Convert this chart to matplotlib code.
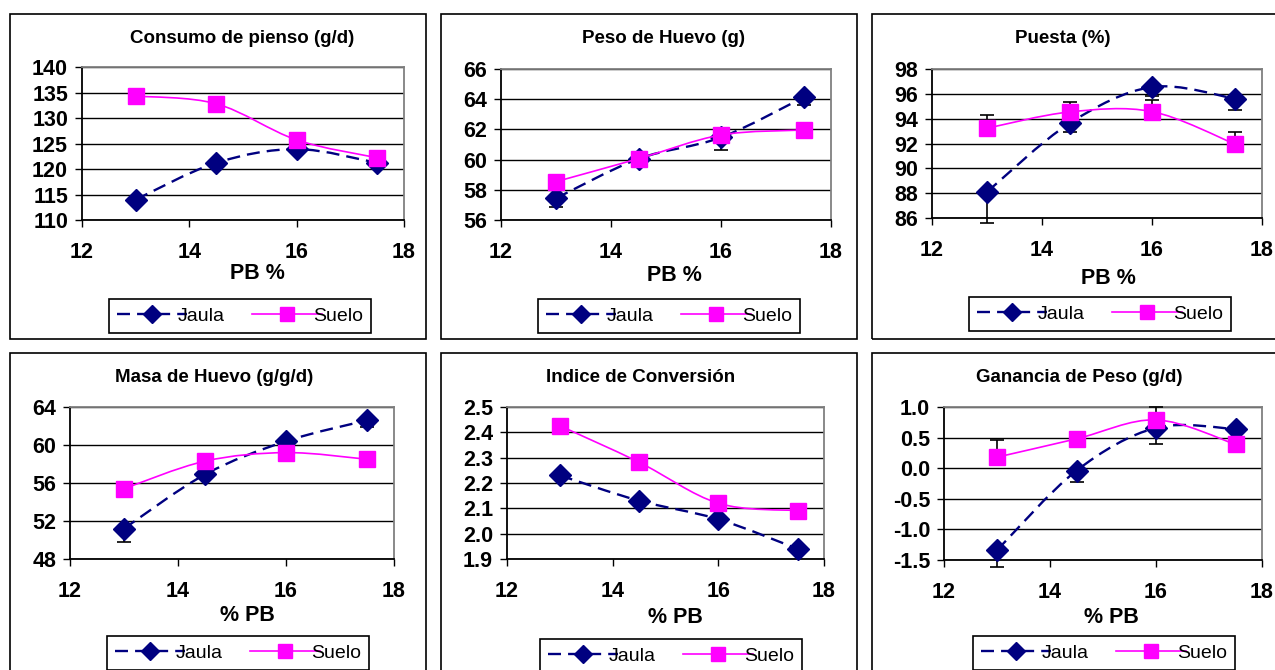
import numpy as np
import matplotlib
matplotlib.use("Agg")
import matplotlib.pyplot as plt
from matplotlib.path import Path
from matplotlib.patches import PathPatch, Rectangle
from matplotlib.lines import Line2D

plt.rcParams['font.family'] = ['Liberation Sans', 'DejaVu Sans']

W, H = 1275, 670
NAVY = '#000080'
MAG = '#FF00FF'

# protein level (PB %)
pb = [13, 14.5, 16, 17.5]

consumo_jaula = [114.0, 121.2, 123.9, 121.2]
consumo_jaula_err = [0.9, 0.4, 0.4, 0.4]
consumo_suelo = [134.3, 132.8, 125.7, 122.2]
consumo_suelo_err = [0.2, 0.2, 0.2, 0.2]

peso_jaula = [57.44, 60.05, 61.47, 64.12]
peso_jaula_err = [0.56, 0.3, 0.83, 0.52]
peso_suelo = [58.54, 60.06, 61.63, 61.96]
peso_suelo_err = [0.1, 0.1, 0.1, 0.1]

puesta_jaula = [88.1, 93.63, 96.55, 95.62]
puesta_jaula_err = [2.5, 0.69, 0.69, 0.92]
puesta_suelo = [93.23, 94.54, 94.57, 91.97]
puesta_suelo_err = [1.05, 0.84, 0.93, 0.97]

masa_jaula = [51.2, 56.9, 60.4, 62.6]
masa_jaula_err = [1.4, 0.3, 0.2, 0.7]
masa_suelo = [55.4, 58.3, 59.2, 58.5]
masa_suelo_err = [0.1, 0.1, 0.1, 0.1]

indice_jaula = [2.23, 2.13, 2.057, 1.94]
indice_jaula_err = [0.01, 0.01, 0.01, 0.01]
indice_suelo = [2.426, 2.282, 2.12, 2.091]
indice_suelo_err = [0.005, 0.005, 0.022, 0.005]

ganancia_jaula = [-1.34, -0.04, 0.66, 0.64]
ganancia_jaula_err = [0.28, 0.19, 0.27, 0.02]
ganancia_suelo = [0.18, 0.48, 0.79, 0.39]
ganancia_suelo_err = [0.28, 0.02, 0.21, 0.02]

titles = ['Consumo de pienso (g/d)', 'Peso de Huevo (g)', 'Puesta (%)',
          'Masa de Huevo (g/g/d)', 'Indice de Conversión', 'Ganancia de Peso (g/d)']
xlabels = ['PB %', 'PB %', 'PB %', '% PB', '% PB', '% PB']
yticks = [[110, 115, 120, 125, 130, 135, 140],
          [56, 58, 60, 62, 64, 66],
          [86, 88, 90, 92, 94, 96, 98],
          [48, 52, 56, 60, 64],
          [1.9, 2.0, 2.1, 2.2, 2.3, 2.4, 2.5],
          [-1.5, -1.0, -0.5, 0.0, 0.5, 1.0]]
ytick_fmt = ['{:.0f}', '{:.0f}', '{:.0f}', '{:.0f}', '{:.1f}', '{:.1f}']
xticks = [12, 14, 16, 18]
legend_labels = ['Jaula', 'Suelo']

series = [
    (consumo_jaula, consumo_jaula_err, consumo_suelo, consumo_suelo_err),
    (peso_jaula, peso_jaula_err, peso_suelo, peso_suelo_err),
    (puesta_jaula, puesta_jaula_err, puesta_suelo, puesta_suelo_err),
    (masa_jaula, masa_jaula_err, masa_suelo, masa_suelo_err),
    (indice_jaula, indice_jaula_err, indice_suelo, indice_suelo_err),
    (ganancia_jaula, ganancia_jaula_err, ganancia_suelo, ganancia_suelo_err),
]

# layout in pixels: plot area (x0, x1, ytop, ybot), chart frame, title/xlabel/legend anchors
plot_px = [(82, 404, 67, 220), (501, 831, 69, 220), (932, 1262, 69, 218),
           (70, 394, 407, 559), (507, 824, 407, 559), (944, 1262, 407, 560)]
frame_px = [(10, 426, 14, 339), (441, 857, 14, 339), (872, 1290, 14, 339),
            (10, 426, 353, 690), (441, 857, 353, 690), (872, 1290, 353, 690)]
title_px = [(242, 43), (664, 43), (1063, 43), (214, 382), (641, 382), (1079, 382)]
xlabel_px = [(257, 279), (674, 281), (1108, 284), (247, 621), (675, 623), (1111, 623)]
legend_px = [(240, 316), (669, 316), (1100, 314), (238, 653), (671, 656), (1104, 653)]


def smooth_path(x, y):
    # Excel-like smoothed line: cubic Bezier segments through the data points
    pts = np.column_stack([np.asarray(x, float), np.asarray(y, float)])
    n = len(pts)
    verts = [pts[0]]
    codes = [Path.MOVETO]
    for i in range(n - 1):
        p0 = pts[max(i - 1, 0)]
        p1 = pts[i]
        p2 = pts[i + 1]
        p3 = pts[min(i + 2, n - 1)]
        verts += [p1 + (p2 - p0) / 6, p2 - (p3 - p1) / 6, p2]
        codes += [Path.CURVE4] * 3
    return Path(verts, codes)


fig = plt.figure(figsize=(W / 100, H / 100), dpi=100)
fig.patch.set_facecolor('white')

jaula_style = dict(color=NAVY, lw=1.7, ls=(0, (5.5, 3)))
suelo_style = dict(color=MAG, lw=1.2, ls='-')
D_MS = 11
S_MS = 11

for i in range(6):
    x0, x1, yt, yb = plot_px[i]
    ax = fig.add_axes([x0 / W, 1 - yb / H, (x1 - x0) / W, (yb - yt) / H])
    jaula, jaula_err, suelo, suelo_err = series[i]

    ax.set_xlim(12, 18)
    ax.set_ylim(yticks[i][0], yticks[i][-1])
    ax.set_xticks(xticks, labels=[str(t) for t in xticks], fontweight='bold')
    ax.set_yticks(yticks[i], labels=[ytick_fmt[i].format(t) for t in yticks[i]], fontweight='bold')
    ax.tick_params(axis='both', direction='out', length=5, width=1, labelsize=15.5, color='black')
    ax.tick_params(axis='x', pad=11)
    ax.tick_params(axis='y', pad=5)
    ax.yaxis.grid(True, color='black', lw=1)
    ax.set_axisbelow(True)
    for s in ['left', 'bottom']:
        ax.spines[s].set_color('black')
        ax.spines[s].set_linewidth(1.3)
    for s in ['top', 'right']:
        ax.spines[s].set_color('#808080')
        ax.spines[s].set_linewidth(1.3)

    # Jaula
    ax.add_patch(PathPatch(smooth_path(pb, jaula), fc='none', ec=NAVY, lw=jaula_style['lw'],
                           ls=jaula_style['ls'], zorder=3))
    eb = ax.errorbar(pb, jaula, yerr=[jaula_err, [0] * len(pb)], fmt='none', ecolor='black',
                     elinewidth=1.2, capsize=5, capthick=1.2, zorder=3.5)
    for art in eb.lines[1] + eb.lines[2]:
        art.set_clip_on(False)
    ax.plot(pb, jaula, ls='none', marker='D', ms=D_MS, color=NAVY, zorder=4, clip_on=False)

    # Suelo
    ax.add_patch(PathPatch(smooth_path(pb, suelo), fc='none', ec=MAG, lw=suelo_style['lw'],
                           zorder=5))
    eb = ax.errorbar(pb, suelo, yerr=[[0] * len(pb), suelo_err], fmt='none', ecolor='black',
                     elinewidth=1.2, capsize=5, capthick=1.2, zorder=5.5)
    for art in eb.lines[1] + eb.lines[2]:
        art.set_clip_on(False)
    ax.plot(pb, suelo, ls='none', marker='s', ms=S_MS, color=MAG, zorder=6, clip_on=False)

    tx, ty = title_px[i]
    fig.text(tx / W, 1 - ty / H, titles[i], ha='center', va='baseline',
             fontsize=13.5, fontweight='bold')
    lx, ly = xlabel_px[i]
    fig.text(lx / W, 1 - ly / H, xlabels[i], ha='center', va='baseline',
             fontsize=15.5, fontweight='bold')

    handles = [Line2D([], [], marker='D', ms=D_MS * 0.85, **jaula_style),
               Line2D([], [], marker='s', ms=S_MS * 0.9, **suelo_style)]
    cx, cy = legend_px[i]
    leg = ax.legend(handles, legend_labels, loc='center', bbox_to_anchor=(cx / W, 1 - cy / H),
                    bbox_transform=fig.transFigure, ncol=2, frameon=True, fancybox=False,
                    edgecolor='black', framealpha=1, prop={'size': 14, 'weight': 'normal'},
                    handlelength=3.6, handletextpad=-0.45, columnspacing=1.4,
                    borderpad=0.4, numpoints=1)
    leg.get_frame().set_linewidth(1.2)

    fx0, fx1, fy0, fy1 = frame_px[i]
    fig.add_artist(Rectangle((fx0 / W, 1 - fy1 / H), (fx1 - fx0) / W, (fy1 - fy0) / H,
                             transform=fig.transFigure, fill=False, ec='black', lw=1.2))

fig.savefig('out.png', dpi=100, facecolor='white')
